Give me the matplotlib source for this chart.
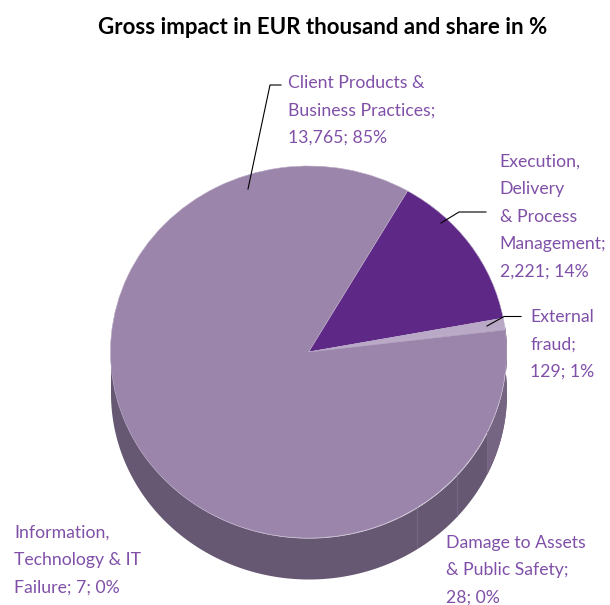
import numpy as np
import matplotlib
matplotlib.use("Agg")
import matplotlib.pyplot as plt

plt.rcParams["font.family"] = ["Lato", "DejaVu Sans"]

# clockwise from the top right edge of the big slice
categories = ["Execution,\nDelivery\n& Process\nManagement",
              "External\nfraud",
              "Damage to Assets\n& Public Safety",
              "Information,\nTechnology & IT\nFailure",
              "Client Products &\nBusiness Practices"]
values = [2221, 129, 28, 7, 13765]
shares = [14, 1, 0, 0, 85]
slice_colors = ["#5E2887", "#B9A9C6", "#B9A9C6", "#B9A9C6", "#9B85AB"]
value_seps = [";\n", ";\n", ";\n", "; ", ";\n"]

W, H = 610, 605
CX, CY, RX, RY, DEPTH = 308.5, 352, 198, 186, 41
TEXT_COLOR = "#8050A8"

fig = plt.figure(figsize=(W / 100, H / 100), dpi=100)

# pie axes: the unit circle gets squashed into the tilted ellipse
ax = fig.add_axes([(CX - RX) / W, (H - CY - RY - DEPTH) / H,
                   2 * RX / W, (2 * RY + DEPTH) / H])
ax.pie(values, colors=slice_colors, startangle=60, counterclock=False,
       radius=1, wedgeprops=dict(edgecolor="#B9A9C6", linewidth=0.4))
ax.set_aspect("auto")
ax.set_xlim(-1, 1)
d = DEPTH / RY
ax.set_ylim(-1 - d, 1)

# side wall of the disc
t = np.radians(np.linspace(8, -180, 300))
ax.fill_between(np.cos(t), np.sin(t), np.sin(t) - d, color="#665772", lw=0, zorder=0)
# lighter right end
t = np.radians(np.linspace(8, -25.6, 80))
ax.fill_between(np.cos(t), np.sin(t), np.sin(t) - d, color="#756582", lw=0, zorder=0.1)
for a in [-25.6, -41.4, -56.7]:
    t = np.radians(a)
    ax.plot([np.cos(t)] * 2, [np.sin(t), np.sin(t) - d], color="#7A6B88", lw=0.6, zorder=0.5)
ax.axis("off")

# overlay in pixel coordinates for title, labels and leaders
ov = fig.add_axes([0, 0, 1, 1], facecolor="none")
ov.set_xlim(0, W)
ov.set_ylim(H, 0)
ov.axis("off")

ov.text(323, 27, "Gross impact in EUR thousand and share in %", ha="center", va="center",
        fontsize=16, fontweight="bold", color="black")

label_pos = [(499.5, 216.5), (530.5, 344.5), (446, 570), (14.5, 560.5), (288, 110.5)]
for cat, val, sh, sep, (x, y) in zip(categories, values, shares, value_seps, label_pos):
    ov.text(x, y, f"{cat}{sep}{val:,}; {sh}%", ha="left", va="center", fontsize=12.7,
            color=TEXT_COLOR, linespacing=1.88, clip_on=False)

leaders = [([441, 459, 486], [223, 212, 212]),
           ([487, 504, 521], [326, 316.5, 316.5]),
           ([248, 270, 281], [189, 85, 85])]
for xs, ys in leaders:
    ov.plot(xs, ys, color="black", lw=0.8)

fig.savefig("out.png", dpi=100)
